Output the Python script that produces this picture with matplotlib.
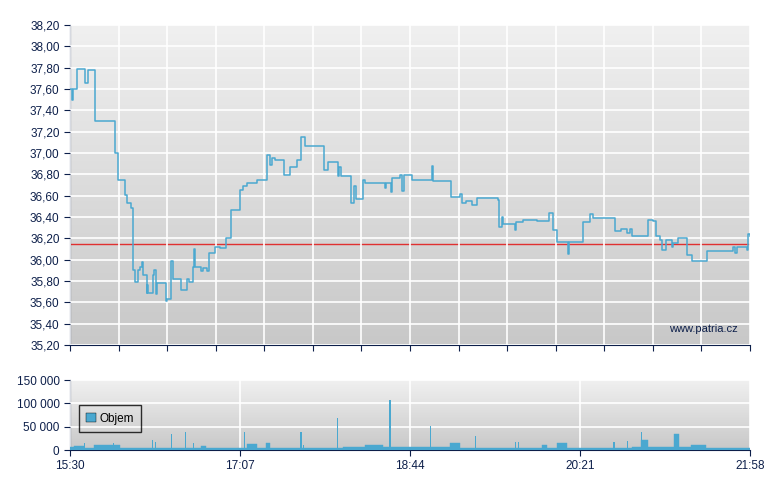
import numpy as np
import matplotlib
matplotlib.use('Agg')
import matplotlib.pyplot as plt
from matplotlib.ticker import FuncFormatter, MultipleLocator

plt.rcParams['font.family'] = ['Liberation Sans', 'DejaVu Sans']
plt.rcParams['font.size'] = 8

# price steps: minutes since 15:30, price
priceTimes = [0, 1.1, 1.9, 2.9, 3.8, 8.0, 8.8, 10.5, 13.0, 14.1, 24.4, 25.5, 27.0, 27.6, 30.8, 31.6,
  32.3, 34.2, 34.6, 35.4, 35.8, 36.9, 38.0, 38.6, 40.0, 40.9, 41.5, 43.2, 43.8, 44.1, 44.7, 47.0,
  47.6, 48.1, 48.9, 49.8, 54.0, 54.6, 55.5, 56.7, 57.6, 58.6, 62.0, 63.2, 66.2, 67.0, 67.7, 69.4,
  70.0, 70.8, 71.5, 73.2, 74.6, 75.7, 77.6, 78.2, 79.1, 81.8, 82.7, 85.6, 88.1, 88.8, 91.3, 92.1,
  96.1, 97.0, 98.5, 101.2, 106.5, 106.9, 111.3, 112.2, 113.7, 114.1, 115.1, 117.0, 121.4, 122.1,
  124.0, 125.5, 128.6, 129.3, 131.2, 132.0, 134.3, 144.6, 145.1, 147.4, 152.5, 152.9, 153.7, 154.4,
  159.8, 160.2, 161.7, 162.2, 163.2, 166.4, 167.4, 168.3, 179.2, 179.7, 180.3, 182.2, 183.0, 183.5,
  188.3, 189.3, 190.6, 195.0, 205.8, 206.6, 207.3, 216.5, 217.2, 222.5, 223.5, 226.0, 229.2, 232.0,
  240.6, 244.4, 245.0, 246.3, 246.9, 253.0, 253.9, 254.5, 258.7, 266.3, 272.0, 273.5, 274.8, 275.8,
  277.7, 278.1, 283.4, 284.0, 284.5, 292.0, 292.5, 295.8, 296.7, 298.2, 310.0, 311.0, 313.8, 314.2,
  317.3, 318.0, 319.5, 320.5, 329.0, 330.0, 332.9, 334.4, 336.7, 337.6, 339.5, 339.9, 342.4, 343.3,
  344.3, 347.1, 350.9, 352.3, 354.7, 362.3, 363.3, 377.5, 378.1, 379.5, 380.4, 386.1, 387.0, 388.0]
prices = [37.60, 37.50, 37.60, 37.60, 37.79, 37.79, 37.66, 37.78, 37.78, 37.30, 37.30, 37.00, 37.00, 36.75, 36.75, 36.61,
  36.53, 36.53, 36.48, 36.48, 35.90, 35.79, 35.79, 35.90, 35.93, 35.98, 35.86, 35.86, 35.69, 35.76, 35.69, 35.69,
  35.86, 35.90, 35.68, 35.78, 35.78, 35.61, 35.63, 35.63, 35.99, 35.82, 35.82, 35.72, 35.72, 35.82, 35.79, 35.79,
  35.93, 36.10, 35.93, 35.93, 35.89, 35.92, 35.92, 35.89, 36.06, 36.06, 36.12, 36.11, 36.11, 36.20, 36.20, 36.47,
  36.47, 36.65, 36.69, 36.72, 36.72, 36.75, 36.75, 36.98, 36.98, 36.89, 36.95, 36.93, 36.93, 36.79,
  36.79, 36.87, 36.87, 36.93, 36.93, 37.15, 37.07, 37.07, 36.84, 36.92, 36.92, 36.78, 36.87, 36.78,
  36.78, 36.53, 36.53, 36.69, 36.57, 36.57, 36.75, 36.72, 36.72, 36.67, 36.72, 36.72, 36.63, 36.77,
  36.79, 36.64, 36.79, 36.75, 36.75, 36.88, 36.74, 36.74, 36.59, 36.62, 36.53, 36.55, 36.51, 36.58,
  36.58, 36.56, 36.31, 36.40, 36.33, 36.33, 36.28, 36.35, 36.37, 36.36, 36.36, 36.44, 36.44, 36.28,
  36.26, 36.17, 36.17, 36.05, 36.17, 36.17, 36.35, 36.35, 36.43, 36.39, 36.39, 36.27, 36.27, 36.29,
  36.29, 36.25, 36.29, 36.22, 36.22, 36.37, 36.36, 36.22, 36.18, 36.09, 36.09, 36.18, 36.18, 36.12,
  36.16, 36.20, 36.20, 36.04, 35.99, 35.99, 36.08, 36.08, 36.12, 36.06, 36.12, 36.09, 36.24, 36.22]
prevClose = 36.15

# volume background blocks: start minute, end minute, volume
blockStarts = [0, 2.3, 8.0, 13.6, 28.4, 67.6, 74.7, 77.5, 96.0, 100.8, 106.8, 111.6, 113.9, 155.6, 168.4,
  178.4, 216.7, 222.4, 269.2, 272.1, 277.8, 283.4, 320.4, 326.0, 329.7, 344.5, 347.3, 354.4, 363.0]
blockEnds = [2.3, 8.0, 13.6, 28.4, 67.6, 74.7, 77.5, 96.0, 100.8, 106.8, 111.6, 113.9, 155.6, 168.4, 178.4,
  216.7, 222.4, 269.2, 272.1, 277.8, 283.4, 320.4, 326.0, 329.7, 344.5, 347.3, 354.4, 363.0, 388.0]
blockVolumes = [6000, 9000, 5000, 11000, 5000, 5000, 9000, 5000, 5000, 13000, 5000, 15000, 5000, 6000, 11000,
  6000, 15000, 5000, 11000, 5000, 15000, 5000, 7000, 22000, 6000, 35000, 7000, 11000, 5000]
# single trade spikes
spikeTimes = [8.5, 25.0, 47.1, 48.6, 57.9, 65.9, 70.4, 99.7, 131.8, 133.2, 152.5, 182.6, 205.9, 231.5,
  254.2, 255.9, 310.4, 318.1, 326.0]
spikeVolumes = [14000, 16000, 22000, 18000, 35000, 39000, 15000, 38000, 38000, 11000, 69000, 108000, 52000,
  29000, 17000, 17000, 17000, 20000, 38000]

tickLabels = ['15:30', '17:07', '18:44', '20:21', '21:58']
tickPos = [0, 97, 194, 291, 388]

navy = '#0d1f4a'
blue = '#4aa8d0'


def gradient(ax, ylo, yhi):
  g = np.linspace(0, 1, 256).reshape(-1, 1)
  ax.imshow(g, extent=[0, 388, ylo, yhi], aspect='auto', cmap=matplotlib.colors.LinearSegmentedColormap.from_list('g', ['#f0f0f0', '#c8c8c8']),
    origin='upper', zorder=0)


def style(ax):
  for s in ['top', 'right']:
    ax.spines[s].set_visible(False)
  for s in ['left', 'bottom']:
    ax.spines[s].set_color(navy)
  ax.tick_params(colors=navy, direction='out', length=4, labelcolor=navy, labelsize=8.5)
  ax.set_axisbelow(False)


fig = plt.figure(figsize=(7.8, 4.9), dpi=100)
ax1 = fig.add_axes([70 / 780, 145 / 490, 680 / 780, 320 / 490])
ax2 = fig.add_axes([70 / 780, 40 / 490, 680 / 780, 70 / 490])

gradient(ax1, 35.2, 38.2)
ax1.set_xlim(0, 388)
ax1.set_ylim(35.2, 38.2)
ax1.yaxis.set_major_locator(MultipleLocator(0.2))
ax1.yaxis.set_major_formatter(FuncFormatter(lambda v, p: '{:.2f}'.format(v).replace('.', ',')))
ax1.set_xticks(np.arange(15) * 388 / 14)
ax1.set_xticklabels([])
ax1.grid(True, color='white', linewidth=1.2, zorder=1)
ax1.step(priceTimes, prices, where='post', color=blue, linewidth=1.1, zorder=3)
ax1.axhline(prevClose, color='#e03030', linewidth=1.0, zorder=2)
ax1.text(381, 35.35, 'www.patria.cz', color=navy, ha='right', va='center', fontsize=8, zorder=4)
style(ax1)

gradient(ax2, 0, 150000)
ax2.set_xlim(0, 388)
ax2.set_ylim(0, 150000)
ax2.set_yticks([0, 50000, 100000, 150000])
ax2.yaxis.set_major_formatter(FuncFormatter(lambda v, p: '{:,.0f}'.format(v).replace(',', ' ')))
ax2.set_xticks(tickPos)
ax2.set_xticklabels(tickLabels)
ax2.grid(True, color='white', linewidth=1.2, zorder=1)
widths = [e - s for s, e in zip(blockStarts, blockEnds)]
ax2.bar(blockStarts, blockVolumes, width=widths, align='edge', color=blue, edgecolor=blue, linewidth=0.3, zorder=3, label='Objem')
ax2.bar(spikeTimes, spikeVolumes, width=0.6, color=blue, zorder=3)
leg = ax2.legend(loc='center left', bbox_to_anchor=(0.005, 0.45), frameon=True, fancybox=False, fontsize=8.5,
  handlelength=0.8, handleheight=0.8, handletextpad=0.3, borderpad=0.6)
leg.get_frame().set_edgecolor('black')
leg.get_frame().set_facecolor('none')
leg.legend_handles[0].set_edgecolor('black')
style(ax2)

fig.savefig('out.png', dpi=100)
